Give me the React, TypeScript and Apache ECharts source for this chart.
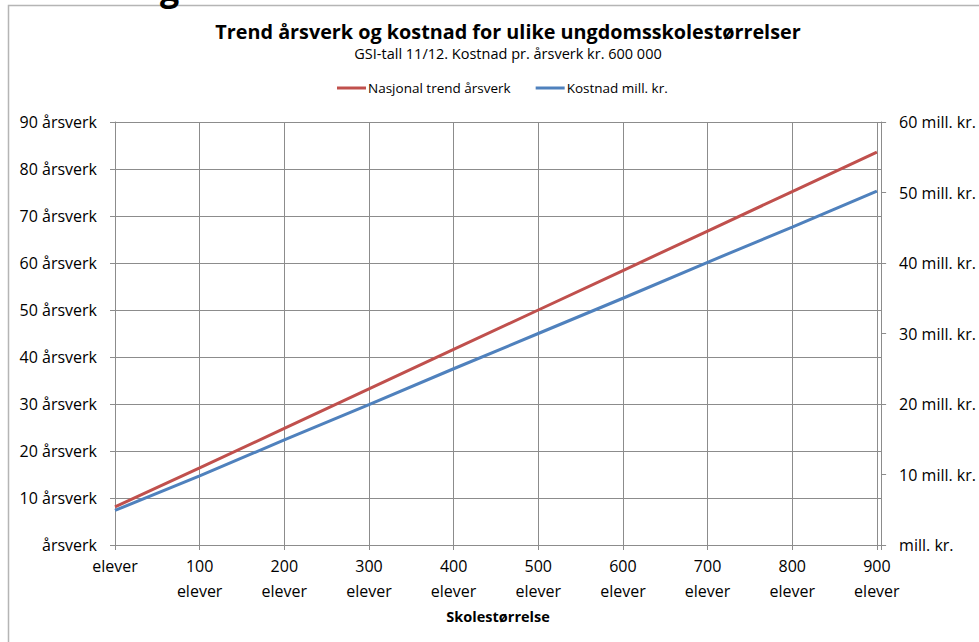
import React, { useEffect, useRef } from "react";
import * as echarts from "echarts";

const titleText = "Trend årsverk og kostnad for ulike ungdomsskolestørrelser";
const subtitleText = "GSI-tall 11/12. Kostnad pr. årsverk kr. 600 000";
const xAxisName = "Skolestørrelse";
const seriesNames = ["Nasjonal trend årsverk", "Kostnad mill. kr."];
const schoolSizes = [0, 100, 200, 300, 400, 500, 600, 700, 800, 900];
const trendFte = [8.1, 16.4, 24.8, 33.2, 41.6, 50.0, 58.4, 66.8, 75.2, 83.6];
const costMill = [4.9, 9.8, 14.9, 19.9, 25.0, 30.0, 35.0, 40.1, 45.1, 50.2];
const leftAxisMax = 90;
const rightAxisMax = 60;

const FONT = "'Open Sans', 'Noto Sans', sans-serif";

export default function App() {
  const ref = useRef<HTMLDivElement>(null);
  useEffect(() => {
    if (!ref.current) return;
    const chart = echarts.init(ref.current, null, { renderer: "svg" });
    const gridColor = "#8c8c8c";
    chart.setOption({
      animation: false,
      backgroundColor: "#ffffff",
      textStyle: { fontFamily: FONT, color: "#000" },
      graphic: [
        {
          type: "rect",
          shape: { x: 8.5, y: 5.5, width: 1000, height: 700 },
          style: { fill: "none", stroke: "#b5b5b5", lineWidth: 1.5 },
          silent: true,
        },
        {
          type: "text",
          x: 160,
          y: 5,
          style: {
            text: "g",
            font: "bold 34px " + FONT,
            fill: "#000",
            verticalAlign: "bottom",
          },
        },
      ],
      title: {
        text: titleText,
        subtext: subtitleText,
        left: 503,
        textAlign: "center",
        top: 16,
        itemGap: 5,
        textStyle: { fontFamily: FONT, fontSize: 19.8, fontWeight: "bold", color: "#000" },
        subtextStyle: { fontFamily: FONT, fontSize: 14.5, color: "#000" },
      },
      legend: {
        top: 76,
        left: 332,
        icon: "rect",
        itemWidth: 29,
        itemHeight: 3,
        itemGap: 25,
        textStyle: { fontFamily: FONT, fontSize: 13.5, color: "#000", padding: [0, 0, 0, -3] },
        data: seriesNames,
      },
      grid: { left: 115, right: 95, top: 122, bottom: 97, containLabel: false },
      xAxis: {
        type: "value",
        min: 0,
        max: 905,
        interval: 100,
        name: xAxisName,
        nameLocation: "middle",
        nameGap: 64,
        nameTextStyle: { fontFamily: FONT, fontSize: 14.5, fontWeight: "bold", color: "#000" },
        axisLine: { show: true, lineStyle: { color: gridColor } },
        axisTick: { show: true, length: 5, lineStyle: { color: gridColor } },
        splitLine: { show: true, lineStyle: { color: gridColor } },
        axisLabel: {
          fontFamily: FONT,
          fontSize: 16,
          color: "#000",
          margin: 8,
          lineHeight: 25,
          formatter: (v: number) =>
            v % 100 !== 0 ? "" : v === 0 ? "elever" : v + "\nelever",
        },
      },
      yAxis: [
        {
          type: "value",
          min: 0,
          max: leftAxisMax,
          interval: 10,
          position: "left",
          axisLine: { show: true, lineStyle: { color: gridColor } },
          axisTick: { show: true, length: 5, lineStyle: { color: gridColor } },
          splitLine: { show: true, lineStyle: { color: gridColor } },
          axisLabel: {
            fontFamily: FONT,
            fontSize: 16,
            color: "#000",
            margin: 18,
            formatter: (v: number) => (v === 0 ? "årsverk" : v + " årsverk"),
          },
        },
        {
          type: "value",
          min: 0,
          max: rightAxisMax,
          interval: 10,
          position: "right",
          axisLine: { show: true, lineStyle: { color: gridColor } },
          axisTick: { show: true, length: 5, lineStyle: { color: gridColor } },
          splitLine: { show: false },
          axisLabel: {
            fontFamily: FONT,
            fontSize: 16,
            color: "#000",
            margin: 18,
            formatter: (v: number) => (v === 0 ? "mill. kr." : v + " mill. kr."),
          },
        },
      ],
      series: [
        {
          name: seriesNames[0],
          type: "line",
          yAxisIndex: 0,
          symbol: "none",
          lineStyle: { color: "#C0504D", width: 3 },
          itemStyle: { color: "#C0504D" },
          data: schoolSizes.map((x, i) => [x, trendFte[i]]),
        },
        {
          name: seriesNames[1],
          type: "line",
          yAxisIndex: 1,
          symbol: "none",
          lineStyle: { color: "#4F81BD", width: 3 },
          itemStyle: { color: "#4F81BD" },
          data: schoolSizes.map((x, i) => [x, costMill[i]]),
        },
      ],
    });
    return () => chart.dispose();
  }, []);
  return (
    <div
      ref={ref}
      style={{ position: "absolute", left: 0, top: 0, width: 979, height: 642 }}
    />
  );
}
